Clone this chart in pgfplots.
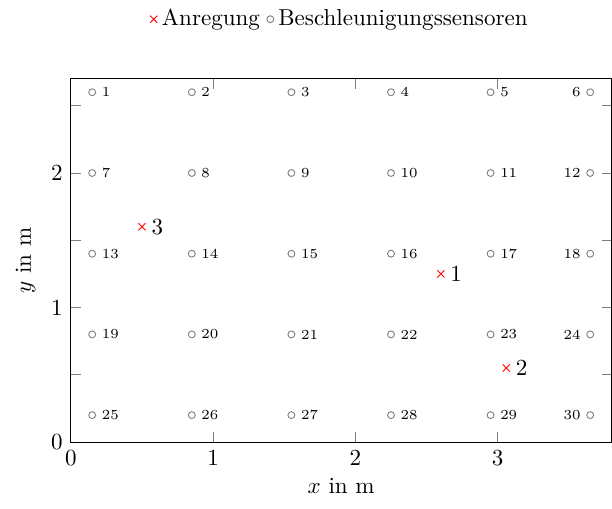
\documentclass[border=0pt]{standalone}
\usepackage{pgfplots}
\pgfplotsset{compat=1.18}
\begin{document}
\begin{tikzpicture}
\begin{axis}[
  scale only axis, width=234.6pt, height=157.6pt,
  xmin=0, xmax=3.8, ymin=0, ymax=2.7,
  xtick={0,1,2,3},
  ytick={0,0.5,1,1.5,2,2.5}, yticklabels={0,,1,,2,},
  tick align=inside, tick style={gray, thin},
  xlabel={$x$ in m}, ylabel={$y$ in m},
  xlabel style={yshift=1pt},
  legend style={at={(0.5,1.11)}, anchor=south, draw=none, legend columns=-1,
    /tikz/every even column/.append style={column sep=1pt}},
  legend cell align=left,
]
\addplot[only marks, mark=x, red, mark size=2.2pt,
  nodes near coords={\pgfplotspointmeta}, point meta=explicit symbolic,
  every node near coord/.append style={anchor=west, black, inner sep=0pt, xshift=4pt, yshift=0pt}]
  coordinates {(2.6,1.25) [1] (3.06,0.55) [2] (0.5,1.6) [3]};
\addlegendentry{Anregung}
\addplot[only marks, mark=o, gray, mark size=1.5pt,
  nodes near coords={\fontsize{6}{7}\selectfont\pgfplotspointmeta}, point meta=explicit symbolic,
  every node near coord/.append style={anchor=west, black, inner sep=0pt, xshift=4pt}]
  coordinates {
  (0.15,2.6) [1] (0.85,2.6) [2] (1.55,2.6) [3] (2.25,2.6) [4] (2.95,2.6) [5]
  (0.15,2.0) [7] (0.85,2.0) [8] (1.55,2.0) [9] (2.25,2.0) [10] (2.95,2.0) [11]
  (0.15,1.4) [13] (0.85,1.4) [14] (1.55,1.4) [15] (2.25,1.4) [16] (2.95,1.4) [17]
  (0.15,0.8) [19] (0.85,0.8) [20] (1.55,0.8) [21] (2.25,0.8) [22] (2.95,0.8) [23]
  (0.15,0.2) [25] (0.85,0.2) [26] (1.55,0.2) [27] (2.25,0.2) [28] (2.95,0.2) [29]
  };
\addlegendentry{Beschleunigungssensoren}
\addplot[only marks, mark=o, gray, mark size=1.5pt, forget plot,
  nodes near coords={\fontsize{6}{7}\selectfont\pgfplotspointmeta}, point meta=explicit symbolic,
  every node near coord/.append style={anchor=east, black, inner sep=0pt, xshift=-4pt}]
  coordinates {(3.65,2.6) [6] (3.65,2.0) [12] (3.65,1.4) [18] (3.65,0.8) [24] (3.65,0.2) [30]};
\end{axis}
\path (current bounding box.south west) ++(-3.5pt,-3pt);
\end{tikzpicture}
\end{document}
